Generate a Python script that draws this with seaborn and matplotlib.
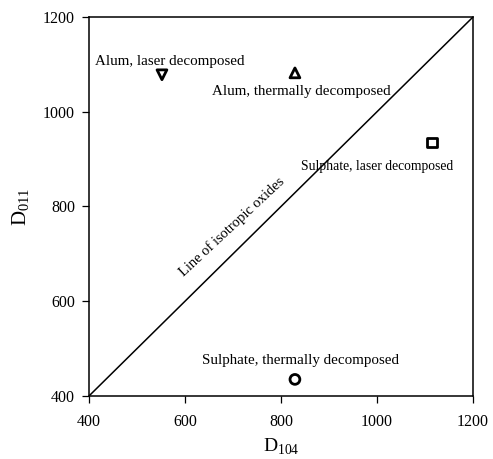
import pandas as pd
import numpy as np
import matplotlib
matplotlib.use("Agg")
import matplotlib.pyplot as plt
import seaborn as sns

# points
samples = ["Alum, laser decomposed", "Alum, thermally decomposed",
           "Sulphate, laser decomposed", "Sulphate, thermally decomposed"]
d104 = [552, 829, 1115, 829]
d011 = [1078, 1082, 935, 435]
marker_list = ["v", "^", "s", "o"]

# label anchors (data coords)
label_x = [412, 842, 1000, 840]
label_y = [1107, 1042, 884, 474]

iso_line = [400, 1200]
ticks = [400, 600, 800, 1000, 1200]

sns.set_theme(style="ticks")
plt.rcParams["font.family"] = ["Liberation Serif", "DejaVu Serif"]
plt.rcParams["mathtext.fontset"] = "custom"
plt.rcParams["mathtext.rm"] = "Liberation Serif"
plt.rcParams["text.color"] = "black"
plt.rcParams["axes.labelcolor"] = "black"

df = pd.DataFrame({"sample": samples, "D104": d104, "D011": d011})

fig = plt.figure(figsize=(4.93, 4.59), dpi=100)
ax = fig.add_axes([0.1805, 0.1373, 0.779, 0.8257])

sns.lineplot(x=iso_line, y=iso_line, color="black", lw=1.1, ax=ax)
sns.scatterplot(data=df, x="D104", y="D011", style="sample",
                markers=dict(zip(samples, marker_list)), s=50,
                fc="none", ec="black", linewidth=2.0, legend=False, ax=ax)

for i, txt in enumerate(samples):
    if i == 0:
        ax.text(label_x[i], label_y[i], txt, ha="left", va="center", fontsize=10.8)
    elif i == 2:
        ax.text(label_x[i], label_y[i], txt, ha="center", va="center", fontsize=9.8)
    else:
        ax.text(label_x[i], label_y[i], txt, ha="center", va="center", fontsize=10.8)

ax.text(697, 758, "Line of isotropic oxides", rotation=43, ha="center",
        va="center", fontsize=10.5, rotation_mode="anchor")

ax.set_xlim(400, 1200)
ax.set_ylim(400, 1200)
ax.set_xticks(ticks)
ax.set_yticks(ticks)
ax.tick_params(direction="out", length=5, width=0.9, labelsize=11.5, colors="black")
ax.tick_params(axis="x", pad=8)
ax.tick_params(axis="y", pad=5)
for sp in ax.spines.values():
    sp.set_linewidth(1.1)
    sp.set_color("black")
ax.set_xlabel(r"$\mathrm{D}_{104}$", fontsize=14, labelpad=5)
ax.set_ylabel(r"$\mathrm{D}_{011}$", fontsize=15, labelpad=8)

fig.savefig("out.png", dpi=100)
